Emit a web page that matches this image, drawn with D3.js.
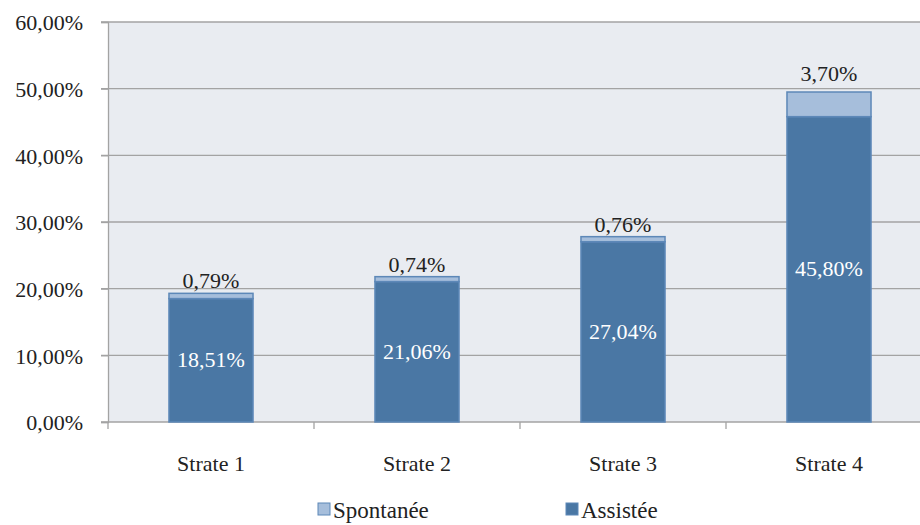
<!DOCTYPE html>
<html><head><meta charset="utf-8">
<script src="https://cdn.jsdelivr.net/npm/d3@7"></script>
<style>body{margin:0;background:#fff}svg{display:block}</style>
</head><body>
<svg id="c" width="920" height="525"></svg>
<script>
const categories = ["Strate 1","Strate 2","Strate 3","Strate 4"];
const assistee = [18.51, 21.06, 27.04, 45.80];
const spontanee = [0.79, 0.74, 0.76, 3.70];
const yTicks = [0,10,20,30,40,50,60];
const seriesNames = ["Spontanée","Assistée"];

const FONT = '"Liberation Serif", Tinos, "Times New Roman", "DejaVu Serif", serif';
const fmt = v => d3.format(".2f")(v).replace(".", ",") + "%";
const svg = d3.select("#c");
const m = {l:108, r:932, t:22, b:422};
const x = d3.scaleBand().domain(categories).range([m.l, m.r]).paddingInner(0.592).paddingOuter(0.296);
const xb = d3.scaleBand().domain(categories).range([m.l, m.r]);
const y = d3.scaleLinear().domain([0,60]).range([m.b, m.t]);

svg.append("rect").attr("x", m.l).attr("y", m.t).attr("width", m.r-m.l).attr("height", m.b-m.t).attr("fill", "#e9ecf1");

// gridlines
svg.append("g").selectAll("line").data(yTicks.filter(d=>d>0)).join("line")
  .attr("x1", m.l-7).attr("x2", m.r).attr("y1", d=>y(d)).attr("y2", d=>y(d))
  .attr("stroke", "#a3a3a3").attr("stroke-width", 1.3);

// y axis
const ya = svg.append("g").attr("transform", `translate(${m.l},0)`)
  .call(d3.axisLeft(y).tickValues(yTicks).tickFormat(fmt).tickSize(7).tickPadding(18));
ya.attr("font-family", FONT);
ya.select(".domain").attr("stroke", "#a3a3a3").attr("stroke-width", 1.3);
ya.selectAll(".tick line").attr("stroke", "#a3a3a3").attr("stroke-width", 1.3);
ya.selectAll("text").attr("font-size", 22).attr("fill", "#222").attr("dy", "0.35em");

// x axis
const xa = svg.append("g").attr("transform", `translate(0,${m.b})`).attr("font-family", FONT);
xa.append("line").attr("x1", m.l-7).attr("x2", m.r).attr("stroke", "#a3a3a3").attr("stroke-width", 1.3);
xa.selectAll("line.t").data(categories).join("line").attr("class","t")
  .attr("x1", d=>xb(d)).attr("x2", d=>xb(d)).attr("y1", 0).attr("y2", 7)
  .attr("stroke", "#a3a3a3").attr("stroke-width", 1.3);
xa.selectAll("text").data(categories).join("text")
  .attr("x", d=>xb(d)+xb.bandwidth()/2).attr("y", 49).attr("text-anchor","middle")
  .attr("font-size", 22).attr("fill", "#222").text(d=>d);

// bars
const g = svg.append("g").attr("font-family", FONT);
categories.forEach((c,i)=>{
  const a = assistee[i], s = spontanee[i];
  g.append("rect").attr("x", x(c)).attr("width", x.bandwidth())
    .attr("y", y(a)).attr("height", y(0)-y(a))
    .attr("fill", "#4a77a4").attr("stroke", "#5d88b8").attr("stroke-width", 1.5);
  g.append("rect").attr("x", x(c)).attr("width", x.bandwidth())
    .attr("y", y(a+s)).attr("height", y(a)-y(a+s))
    .attr("fill", "#a6bedb").attr("stroke", "#5d88b8").attr("stroke-width", 1.5);
  g.append("text").attr("x", x(c)+x.bandwidth()/2).attr("y", (y(a)+y(0))/2 + 7)
    .attr("text-anchor","middle").attr("font-size", 22).attr("fill", "#fff").text(fmt(a));
  g.append("text").attr("x", x(c)+x.bandwidth()/2).attr("y", y(a+s) - (s > 2 ? 11 : 5))
    .attr("text-anchor","middle").attr("font-size", 22).attr("fill", "#222").text(fmt(s));
});

// legend
const leg = svg.append("g").attr("font-family", FONT);
const legX = [318, 566];
const legFill = ["#a6bedb", "#4a77a4"];
seriesNames.forEach((n,i)=>{
  leg.append("rect").attr("x", legX[i]).attr("y", 503).attr("width", 12).attr("height", 12)
    .attr("fill", legFill[i]).attr("stroke", "#5d88b8").attr("stroke-width", 1);
  leg.append("text").attr("x", legX[i]+15).attr("y", 518).attr("font-size", 23).attr("fill", "#222").text(n);
});
</script>
</body></html>
